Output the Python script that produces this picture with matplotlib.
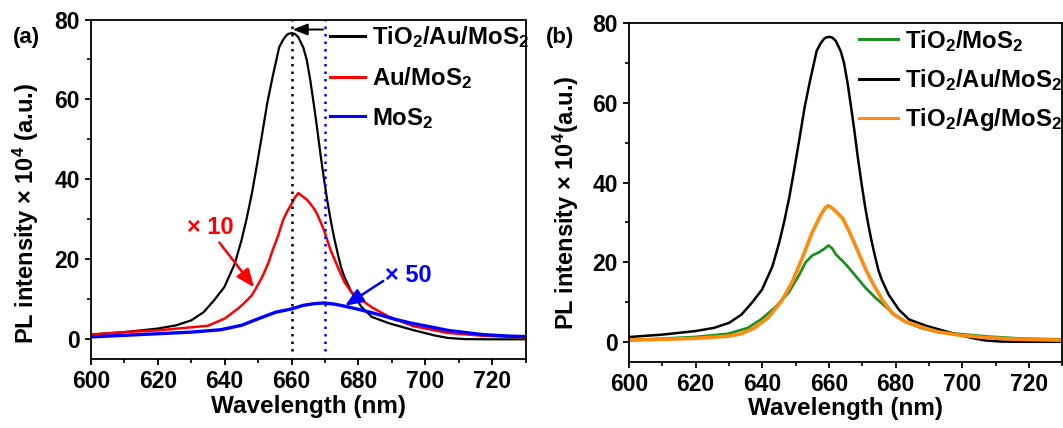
import matplotlib
matplotlib.use("Agg")
import matplotlib.pyplot as plt
from matplotlib.ticker import MultipleLocator

plt.rcParams.update({
    "font.family": ["Liberation Sans", "DejaVu Sans"],
    "font.weight": "bold",
    "axes.labelweight": "bold",
    "mathtext.fontset": "custom",
    "mathtext.rm": "Liberation Sans:bold",
    "mathtext.it": "Liberation Sans:bold",
    "mathtext.bf": "Liberation Sans:bold",
    "mathtext.sf": "Liberation Sans:bold",
    "axes.linewidth": 1.3,
})

# ---- PL spectra (intensity in units of 1e4 counts) ----
# TiO2/Au/MoS2 (shared by both panels)
wl_tau = [600, 610, 620, 625.5, 630, 633.7, 636.8, 639.9, 643, 645, 646.5, 648.1,
          649.5, 651.2, 652.7, 654.3, 656.3, 657.5, 658.4, 659, 660, 661, 662,
          663.5, 664.5, 665.6, 666.6, 667.6, 668.6, 669.7, 670.7, 671.7, 672.7,
          673.8, 674.8, 675.8, 677.9, 681, 684, 689.2, 696.4, 702.6, 706.7, 711.8,
          720, 730]
pl_tau = [1.2, 1.8, 2.7, 3.5, 4.75, 6.8, 9.75, 13.1, 18.9, 24.75, 30.0, 36.4,
          43.0, 51.4, 59.0, 65.6, 73.1, 75.0, 76.0, 76.4, 76.6, 76.4, 75.6,
          73.0, 70.0, 64.75, 59.0, 53.0, 46.5, 40.0, 34.5, 29.75, 25.5,
          21.4, 18.0, 15.6, 11.8, 8.0, 5.6, 4.0, 2.3, 1.0, 0.35, 0.05,
          0.0, 0.0]

# Au/MoS2 (x10)
wl_au = [600, 610, 620, 630, 635, 640, 644, 646, 648.1, 649.5, 651.2, 653, 654.3,
         656, 657.4, 658.7, 660, 661, 662, 663.5, 664.5, 665.6, 666.6, 667.6,
         668.6, 669.7, 670.7, 671.7, 673.8, 675.8, 677.9, 681, 684, 689.2,
         696.4, 706.7, 717, 730]
pl_au = [1.2, 1.8, 2.25, 3.0, 3.4, 5.2, 7.7, 9.2, 11.0, 13.0, 15.6, 19.0, 22.25,
         26.0, 29.75, 32.0, 33.9, 35.5, 36.6, 35.6, 35.0, 33.9, 32.8, 31.4,
         29.5, 27.25, 24.7, 22.25, 18.1, 14.3, 11.8, 9.8, 8.0, 5.6,
         3.3, 1.6, 0.9, 0.5]

# MoS2 (x50)
wl_mos = [600, 610, 620, 630, 638.8, 645, 650.2, 655.3, 660, 663.5, 666.6, 669.7,
          672.8, 675.8, 681, 686, 691, 696, 701, 707, 717, 725, 730]
pl_mos = [0.6, 1.0, 1.4, 1.8, 2.4, 3.5, 5.2, 6.8, 7.6, 8.5, 8.9, 9.1,
          8.8, 8.3, 7.3, 6.2, 5.0, 4.0, 3.2, 2.2, 1.2, 0.8, 0.7]

# TiO2/MoS2
wl_ti = [600, 611.3, 619.8, 629.6, 635.7, 639.7, 643.8, 647.9, 650.9, 653, 655, 657,
         658.5, 659.8, 661, 662, 665, 668, 671, 674, 677, 680, 683, 687.5, 692.6,
         699.7, 707.8, 718, 730]
pl_ti = [0.4, 0.85, 1.2, 2.0, 3.5, 5.7, 8.6, 12.4, 16.6, 20.0, 21.7, 22.5,
         23.3, 24.2, 23.4, 22.0, 19.5, 16.5, 13.5, 11.0, 8.8, 6.6, 5.0, 3.5,
         2.45, 1.9, 1.3, 0.8, 0.6]

# TiO2/Ag/MoS2
wl_ag = [600, 619.8, 629.6, 633.6, 637.7, 641.8, 645.8, 648.9, 651.9, 655, 657.5,
         658.8, 659.8, 661, 662.1, 664.1, 666.1, 668.1, 671.1, 673.1, 676, 679,
         683, 688.5, 692.6, 699.7, 707.8, 718, 730]
pl_ag = [0.4, 0.85, 1.4, 2.0, 3.5, 6.1, 10.3, 14.9, 20.9, 27.6, 31.8,
         33.6, 34.2, 33.5, 32.7, 31.0, 27.6, 23.8, 18.0, 14.7, 10.5, 7.1,
         5.0, 3.5, 2.5, 1.6, 1.0, 0.6, 0.4]

# peak markers and scale annotations
peak_tau, peak_mos = 660, 670
scale_au_text, scale_mos_text = "× 10", "× 50"

xticks = [600, 620, 640, 660, 680, 700, 720]
yticks = [0, 20, 40, 60, 80]

fig = plt.figure(figsize=(10.63, 4.28), dpi=100)
ax_a = fig.add_axes([0.0856, 0.1605, 0.4089, 0.7939])
ax_b = fig.add_axes([0.5917, 0.1549, 0.4078, 0.7907])

RED, BLUE, GREEN, ORANGE = "#ff0000", "#0000ff", "#1f8f1f", "#ff8a10"


def style_axes(ax, ylabel, label_xy):
    ax.set_xlim(600, 730)
    ax.set_ylim(-5, 80)
    ax.set_xticks(xticks)
    ax.set_yticks(yticks)
    ax.xaxis.set_minor_locator(MultipleLocator(10))
    ax.yaxis.set_minor_locator(MultipleLocator(10))
    ax.tick_params(which="major", direction="out", length=4.5, width=1.3,
                   labelsize=16.5, pad=3.5, top=False, right=False)
    ax.tick_params(which="minor", direction="out", length=3, width=1.2,
                   top=False, right=False)
    for lab in ax.get_xticklabels() + ax.get_yticklabels():
        lab.set_fontweight("bold")
    ax.set_xlabel("Wavelength (nm)", fontsize=17.5, labelpad=1)
    ax.set_ylabel(ylabel, fontsize=17)
    ax.yaxis.set_label_coords(*label_xy)


# ---- panel (a) ----
ax_a.plot(wl_tau, pl_tau, color="black", lw=1.6, label=r"TiO$_2$/Au/MoS$_2$")
ax_a.plot(wl_au, pl_au, color=RED, lw=1.8, label=r"Au/MoS$_2$")
ax_a.plot(wl_mos, pl_mos, color=BLUE, lw=2.4, label=r"MoS$_2$")
ax_a.plot([peak_tau, peak_tau], [-2.8, 80], color="black", lw=1.8,
          linestyle=(0, (1, 2)))
ax_a.plot([peak_mos, peak_mos], [-2.8, 80], color=BLUE, lw=1.8,
          linestyle=(0, (1, 2)))
ax_a.annotate("", xy=(peak_tau + 0.3, 77.5), xytext=(peak_mos - 0.6, 77.5),
              arrowprops=dict(arrowstyle="-|>,head_length=0.9,head_width=0.35",
                              mutation_scale=10, color="black", lw=1.4,
                              shrinkA=0, shrinkB=0))
ax_a.annotate("", xy=(648.8, 13), xytext=(638.4, 24.2),
              arrowprops=dict(arrowstyle="-|>,head_length=1.1,head_width=0.45",
                              mutation_scale=10, color=RED, lw=1.8,
                              shrinkA=0, shrinkB=0))
ax_a.annotate("", xy=(676, 8.4), xytext=(687.4, 14.6),
              arrowprops=dict(arrowstyle="-|>,head_length=1.1,head_width=0.45",
                              mutation_scale=10, color=BLUE, lw=1.8,
                              shrinkA=0, shrinkB=0))
ax_a.text(635.6, 28, scale_au_text, color=RED, fontsize=17, fontweight="bold",
          ha="center", va="center")
ax_a.text(694.9, 15.9, scale_mos_text, color=BLUE, fontsize=17, fontweight="bold",
          ha="center", va="center")
style_axes(ax_a, r"PL intensity × 10$^4$ (a.u.)", (-0.115, 0.43))
leg_a = ax_a.legend(loc="upper left", bbox_to_anchor=(0.5475, 0.99),
                    frameon=False, fontsize=17.3, handlelength=1.45,
                    handletextpad=0.3, labelspacing=0.62, borderpad=0.05,
                    borderaxespad=0)
for h in leg_a.get_lines():
    h.set_linewidth(2.2)

# ---- panel (b) ----
ax_b.plot(wl_ti, pl_ti, color=GREEN, lw=2.0, label=r"TiO$_2$/MoS$_2$")
ax_b.plot(wl_tau, pl_tau, color="black", lw=1.8, label=r"TiO$_2$/Au/MoS$_2$")
ax_b.plot(wl_ag, pl_ag, color=ORANGE, lw=2.6, label=r"TiO$_2$/Ag/MoS$_2$")
style_axes(ax_b, r"PL intensity × 10$^4$(a.u.)", (-0.11, 0.47))
leg_b = ax_b.legend(loc="upper left", bbox_to_anchor=(0.528, 0.99),
                    frameon=False, fontsize=17.3, handlelength=1.6,
                    handletextpad=0.3, labelspacing=0.55, borderpad=0.05,
                    borderaxespad=0)
for h in leg_b.get_lines():
    h.set_linewidth(2.2)

fig.text(26 / 1063, 1 - 38 / 428, "(a)", fontsize=16, fontweight="bold",
         ha="center", va="center")
fig.text(560 / 1063, 1 - 38 / 428, "(b)", fontsize=16, fontweight="bold",
         ha="center", va="center")

fig.savefig("out.png", dpi=100)
